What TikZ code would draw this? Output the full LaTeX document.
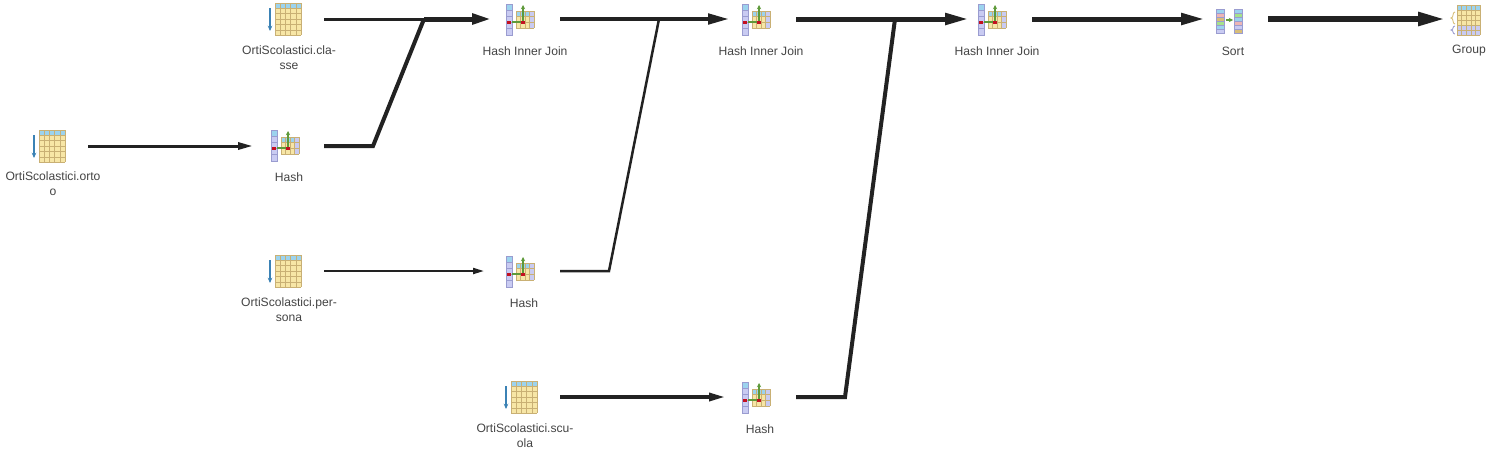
\documentclass[tikz,border=0pt]{standalone}
\usepackage{fontspec}
\setmainfont{Liberation Sans}
\usepackage{xcolor}
\usetikzlibrary{arrows.meta,positioning}
\definecolor{cwLine}{HTML}{222222}
\definecolor{cwText}{HTML}{444444}
\definecolor{cwCell}{HTML}{F7E6A6}
\definecolor{cwGrid}{HTML}{C9B074}
\definecolor{cwHead}{HTML}{9CD3EE}
\definecolor{cwRow}{HTML}{C9CBF2}
\definecolor{cwRowEdge}{HTML}{9A9CD0}
\definecolor{cwScan}{HTML}{3B82B5}
\definecolor{cwProbe}{HTML}{5E9A3A}
\definecolor{cwMatch}{HTML}{C41020}
\definecolor{cwPink}{HTML}{EDB5B5}
\definecolor{cwBrown}{HTML}{D8BE78}
\definecolor{cwGreen}{HTML}{A5E28A}
\tikzset{
    iconbox/.style={minimum width=#1*0.02cm, minimum height=0.6cm, inner sep=0pt, outer sep=0pt},
    opname/.style={font=\fontsize{6.9}{8.6}\selectfont, text=cwText, align=center, inner sep=0pt},
    flow/.style={draw=cwLine, line width=#1*0.02cm, miter limit=10},
    flowarrow/.style n args={3}{flow=#1, -{Triangle[length=#2*0.02cm, width=#3*0.02cm]}},
    gridline/.style={draw=#1, line width=0.25pt},
    tableicon/.pic={
        \fill[cwCell] (-13,-16) rectangle (13,16);
        \fill[cwHead] (-13,-16) rectangle (13,-11);
        \foreach \gx in {-13,-7.8,-2.6,2.6,7.8,13} \draw[gridline=cwGrid] (\gx,-16) -- (\gx,16);
        \foreach \gy in {-16,-11,-5.5,0,5.5,11,16} \draw[gridline=cwGrid] (-13,\gy) -- (13,\gy);
        \draw[cwScan, line width=0.7pt, -{Stealth[length=3pt, width=2.6pt]}] (-18,-11) -- (-18,12);
    },
    hashicon/.pic={
        % probe column
        \fill[cwRow] (-14,-16) rectangle (-8,15);
        \fill[cwHead] (-14,-16) rectangle (-8,-10);
        \foreach \gy in {-10,-4,2,8} \draw[gridline=cwRowEdge] (-14,\gy) -- (-8,\gy);
        \draw[gridline=cwRowEdge] (-14,-16) rectangle (-8,15);
        % hash table
        \fill[cwCell] (-4,-9) rectangle (9,8);
        \fill[cwHead] (-4,-9) rectangle (9,-4);
        \fill[cwRow] (9,-9) rectangle (14,8);
        \foreach \gx in {-4,0.5,5,9,14} \draw[gridline=cwGrid] (\gx,-9) -- (\gx,8);
        \foreach \gy in {-9,-4,2,8} \draw[gridline=cwGrid] (-4,\gy) -- (14,\gy);
        \draw[cwProbe, line width=0.6pt] (-8,2) -- (3,2);
        \draw[cwProbe, line width=0.6pt, -{Stealth[length=2.4pt, width=2.4pt]}] (3,2) -- (3,-15);
        \fill[cwMatch] (-13,0.5) rectangle (-9.5,3.5);
        \fill[cwMatch] (1.2,0.5) rectangle (4.8,3.5);
    },
    sorticon/.pic={
        \foreach \cy/\ca/\cb in {-11/cwHead/cwHead,-7/cwPink/cwGreen,-3/cwBrown/cwHead,1/cwGreen/cwPink,5/cwHead/cwRow,9/cwRow/cwBrown}{
            \fill[\ca] (-13,\cy) rectangle (-5,\cy+4);
            \fill[\cb] (5,\cy) rectangle (13,\cy+4);
            \draw[gridline=cwRowEdge] (-13,\cy) rectangle (-5,\cy+4);
            \draw[gridline=cwRowEdge] (5,\cy) rectangle (13,\cy+4);
        }
        \draw[cwProbe, line width=0.6pt, -{Stealth[length=2.4pt, width=2.4pt]}] (-3,0) -- (4,0);
    },
    groupicon/.pic={
        \fill[cwCell] (-11,-15) rectangle (12,5);
        \fill[cwHead] (-11,-15) rectangle (12,-10);
        \fill[cwRow] (-11,5) rectangle (12,15);
        \foreach \gx in {-11,-6.4,-1.8,2.8,7.4,12} \draw[gridline=cwGrid] (\gx,-15) -- (\gx,15);
        \foreach \gy in {-15,-10,-5,0,5,10,15} \draw[gridline=cwGrid] (-11,\gy) -- (12,\gy);
        \draw[cwBrown, line width=0.5pt] (-13,-8) .. controls (-16,-8) and (-14,-2) .. (-17,-2) .. controls (-14,-2) and (-16,4) .. (-13,4);
        \draw[cwRowEdge, line width=0.5pt] (-13,6) .. controls (-16,6) and (-14,10) .. (-17,10) .. controls (-14,10) and (-16,14) .. (-13,14);
    }
}
\begin{document}
\begin{tikzpicture}[x=0.02cm, y=-0.02cm]

    \fill[white] (0,0) rectangle (1493,454);
    \useasboundingbox (0,0) rectangle (1493,454);

    % Icons
    \pic at (52,146) {tableicon};
    \pic at (288,19) {tableicon};
    \pic at (288,271) {tableicon};
    \pic at (524,397) {tableicon};
    \pic at (285,146) {hashicon};
    \pic at (520,272) {hashicon};
    \pic at (756,398) {hashicon};
    \pic at (520,20) {hashicon};
    \pic at (756,20) {hashicon};
    \pic at (992,20) {hashicon};
    \pic at (1229,20) {sorticon};
    \pic at (1468,20) {groupicon};

    % Nodes
    \node[iconbox=70] (ortoscan) at (53,146) {};
    \node[iconbox=70] (classescan) at (289,19) {};
    \node[iconbox=70] (personascan) at (289,271) {};
    \node[iconbox=70] (scuolascan) at (525,397) {};
    \node[iconbox=71] (hashorto) at (288.5,146) {};
    \node[iconbox=76] (hashpersona) at (522,271) {};
    \node[iconbox=71] (hashscuola) at (760.5,397) {};
    \node[iconbox=68] (joinone) at (526,19) {};
    \node[iconbox=66] (jointwo) at (763,19) {};
    \node[iconbox=63] (jointhree) at (1000.5,19) {};
    \node[iconbox=63] (sortop) at (1236.5,19) {};
    \node[iconbox=46] (groupop) at (1468,19) {};

    % Labels
    \node[opname] (ortolabel) at (53,184) {OrtiScolastici.orto\\o};
    \node[opname] (classelabel) at (289,58) {OrtiScolastici.cla-\\sse};
    \node[opname] (personalabel) at (289,310) {OrtiScolastici.per-\\sona};
    \node[opname] (scuolalabel) at (525,436) {OrtiScolastici.scu-\\ola};
    \node[opname] (hashortolabel) at (289,177) {Hash};
    \node[opname] (hashpersonalabel) at (524,303) {Hash};
    \node[opname] (hashscuolalabel) at (760,429) {Hash};
    \node[opname] (joinonelabel) at (525,51) {Hash Inner Join};
    \node[opname] (jointwolabel) at (761,51) {Hash Inner Join};
    \node[opname] (jointhreelabel) at (997,51) {Hash Inner Join};
    \node[opname] (sortlabel) at (1233,51) {Sort};
    \node[opname] (grouplabel) at (1469,51) {Group};

    % Bends
    \coordinate (mergeone) at (424,19);
    \coordinate (mergetwo) at (659,19);
    \coordinate (mergethree) at (895,19);
    \coordinate (bendone) at (373,146);
    \coordinate (bendtwo) at (609,271);
    \coordinate (bendthree) at (845,397);

    % Arrows
    \draw[flowarrow={3}{15}{7}] (ortoscan.east) -- (hashorto.west);
    \draw[flow=3] (classescan.east) -- (mergeone);
    \draw[flow=4] (hashorto.east) -- (bendone) -- (mergeone);
    \draw[flowarrow={5}{20}{10}] (mergeone) -- (joinone.west);
    \draw[flowarrow={2}{11}{6}] (personascan.east) -- (hashpersona.west);
    \draw[flow=2.5] (hashpersona.east) -- (bendtwo) -- (mergetwo);
    \draw[flowarrow={4.5}{22}{10}] (joinone.east) -- (jointwo.west);
    \draw[flowarrow={3.3}{16}{8}] (scuolascan.east) -- (hashscuola.west);
    \draw[flow=4] (hashscuola.east) -- (bendthree) -- (mergethree);
    \draw[flowarrow={5}{24}{11}] (jointwo.east) -- (jointhree.west);
    \draw[flowarrow={5}{24}{11}] (jointhree.east) -- (sortop.west);
    \draw[flowarrow={5.5}{27}{13}] (sortop.east) -- (groupop.west);

\end{tikzpicture}
\end{document}
